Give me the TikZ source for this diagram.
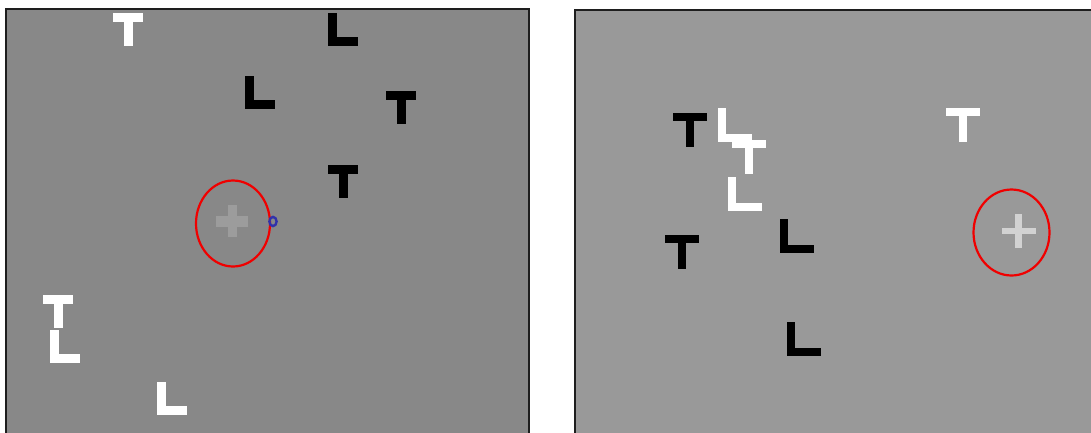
\documentclass[tikz,border=0pt]{standalone}
\usepackage{xcolor}
\usepackage{tikz}
\definecolor{panelleft}{RGB}{136,136,136}
\definecolor{panelright}{RGB}{153,153,153}
\definecolor{frameline}{RGB}{30,30,30}
\definecolor{crossdim}{RGB}{156,156,156}
\definecolor{crosslight}{RGB}{210,210,210}
\definecolor{ringred}{RGB}{240,0,0}
\definecolor{ringblue}{RGB}{50,50,170}
\newcommand\glyphW{30}
\newcommand\glyphH{33}
\newcommand\glyphS{9}
\newcommand\crossV{4.5}
\newcommand\crossH{5.5}
\newcommand\crossL{16}
\tikzset{
  panel/.style={draw=frameline, line width=1.8},
  ring/.style={draw=ringred, line width=2.2},
  glyphwhite/.style={fill=white},
  glyphblack/.style={fill=black},
  letterT/.pic={
    \fill[pic actions] (0,0) rectangle (\glyphW,\glyphS);
    \fill[pic actions] ({(\glyphW-\glyphS)/2},0) rectangle ({(\glyphW+\glyphS)/2},\glyphH);
  },
  letterL/.pic={
    \fill[pic actions] (0,0) rectangle (\glyphS,\glyphH);
    \fill[pic actions] (0,{\glyphH-\glyphS}) rectangle (\glyphW,\glyphH);
  },
  fixcross/.pic={
    \fill[pic actions] (-\crossV,-\crossL) rectangle (\crossV,\crossL);
    \fill[pic actions] (-\crossL,-\crossH) rectangle (\crossL,\crossH);
  },
}

\begin{document}
\begin{tikzpicture}[x=1pt,y=-1pt]
  \clip (0,0) rectangle (1091,432);
  \fill[white] (0,0) rectangle (1091,432);

  % left display
  \filldraw[panel, fill=panelleft] (6,9) rectangle (529,450);
  \pic[glyphwhite] at (113,13) {letterT};
  \pic[glyphblack] at (328,13) {letterL};
  \pic[glyphblack] at (245,76) {letterL};
  \pic[glyphblack] at (386,91) {letterT};
  \pic[glyphblack] at (328,165) {letterT};
  \pic[glyphwhite] at (43,295) {letterT};
  \pic[glyphwhite] at (50,330) {letterL};
  \pic[glyphwhite] at (157,382) {letterL};
  \pic[fill=crossdim] at (232,221) {fixcross};
  \draw[ring] (233,223.5) ellipse [x radius=37, y radius=43];
  \draw[draw=ringblue, line width=2.4] (273,221.5) ellipse [x radius=3.6, y radius=4.6];

  % right display
  \filldraw[panel, fill=panelright] (575,10) rectangle (1110,450);
  \renewcommand\glyphW{34}
  \renewcommand\glyphH{34}
  \renewcommand\glyphS{8}
  \renewcommand\crossV{3.5}
  \renewcommand\crossH{3.2}
  \renewcommand\crossL{17}
  \pic[glyphblack] at (673,113) {letterT};
  \pic[glyphwhite] at (718,108) {letterL};
  \pic[glyphwhite] at (732,140) {letterT};
  \pic[glyphwhite] at (728,177) {letterL};
  \pic[glyphwhite] at (946,108) {letterT};
  \pic[glyphblack] at (665,235) {letterT};
  \pic[glyphblack] at (780,219) {letterL};
  \pic[glyphblack] at (787,322) {letterL};
  \pic[fill=crosslight] at (1018.5,231) {fixcross};
  \draw[ring] (1011.5,232.5) ellipse [x radius=38, y radius=43];
\end{tikzpicture}
\end{document}
